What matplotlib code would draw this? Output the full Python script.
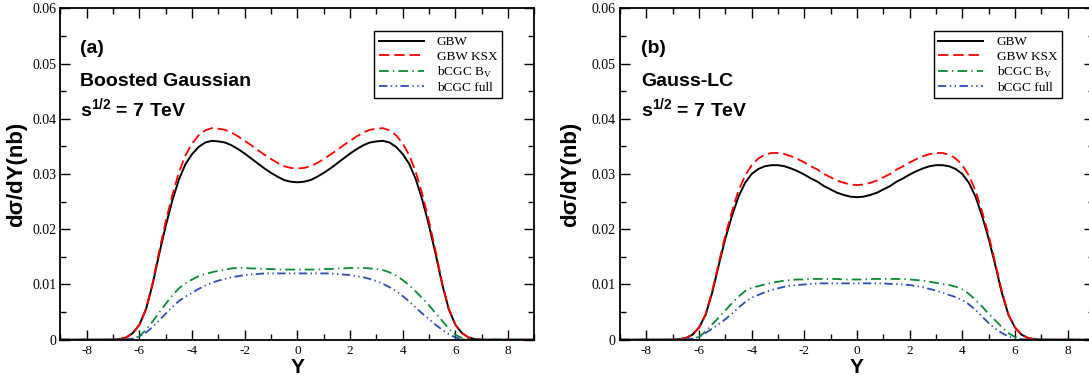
import numpy as np
import matplotlib
matplotlib.use("Agg")
import matplotlib.pyplot as plt

plt.rcParams['lines.scale_dashes'] = False
plt.rcParams['mathtext.fontset'] = 'custom'
plt.rcParams['mathtext.rm'] = 'Liberation Serif'

# Rapidity grid (-9 .. 9, step 0.25)
Y = np.arange(-9, 9.001, 0.25)
Z = [0.0] * 8  # |Y| > 7 region

# ---------------- Panel (a): Boosted Gaussian ----------------
a_gbw = Z + [0.0000, 0.0001, 0.0004, 0.0012, 0.0027, 0.0055, 0.0100, 0.0155, 0.0206, 0.0252,
             0.0290, 0.0318, 0.0336, 0.0349, 0.0357, 0.0360, 0.0359, 0.0357, 0.0352, 0.0345,
             0.0337, 0.0328, 0.0319, 0.0310, 0.0302, 0.0295, 0.0289, 0.0286,
             0.0285,
             0.0286, 0.0289, 0.0295, 0.0302, 0.0310, 0.0319, 0.0328, 0.0337, 0.0345, 0.0352,
             0.0357, 0.0359, 0.0360, 0.0357, 0.0349, 0.0336, 0.0318, 0.0290, 0.0252, 0.0206,
             0.0155, 0.0100, 0.0055, 0.0027, 0.0012, 0.0004, 0.0001, 0.0000] + Z
a_ksx = Z + [0.0000, 0.0001, 0.0004, 0.0012, 0.0027, 0.0056, 0.0102, 0.0160, 0.0214, 0.0262,
             0.0303, 0.0334, 0.0355, 0.0370, 0.0379, 0.0383, 0.0382, 0.0380, 0.0375, 0.0368,
             0.0360, 0.0352, 0.0343, 0.0335, 0.0327, 0.0320, 0.0314, 0.0311,
             0.0310,
             0.0311, 0.0314, 0.0320, 0.0327, 0.0335, 0.0343, 0.0352, 0.0360, 0.0368, 0.0375,
             0.0380, 0.0382, 0.0383, 0.0379, 0.0370, 0.0355, 0.0334, 0.0303, 0.0262, 0.0214,
             0.0160, 0.0102, 0.0056, 0.0027, 0.0012, 0.0004, 0.0001, 0.0000] + Z
a_bv = Z + [0.0000, 0.0000, 0.0000, 0.0001, 0.0006, 0.0018, 0.0033, 0.0049, 0.0065, 0.0080,
            0.0093, 0.0102, 0.0109, 0.0115, 0.0119, 0.0122, 0.0125, 0.0127, 0.0129, 0.0130,
            0.0130, 0.0129, 0.0129, 0.0128, 0.0128, 0.0127, 0.0127, 0.0127,
            0.0127,
            0.0127, 0.0127, 0.0127, 0.0128, 0.0128, 0.0129, 0.0129, 0.0130, 0.0130, 0.0130,
            0.0129, 0.0128, 0.0126, 0.0122, 0.0116, 0.0108, 0.0098, 0.0087, 0.0075, 0.0062,
            0.0048, 0.0034, 0.0020, 0.0009, 0.0003, 0.0000, 0.0000, 0.0000] + Z
a_full = Z + [0.0000, 0.0000, 0.0001, 0.0002, 0.0006, 0.0013, 0.0023, 0.0035, 0.0047, 0.0059,
              0.0070, 0.0078, 0.0085, 0.0092, 0.0098, 0.0103, 0.0107, 0.0110, 0.0113, 0.0115,
              0.0117, 0.0118, 0.0119, 0.0120, 0.0120, 0.0120, 0.0120, 0.0120,
              0.0120,
              0.0120, 0.0120, 0.0120, 0.0120, 0.0120, 0.0119, 0.0118, 0.0117, 0.0115, 0.0113,
              0.0110, 0.0106, 0.0101, 0.0095, 0.0088, 0.0079, 0.0069, 0.0058, 0.0047, 0.0037,
              0.0027, 0.0018, 0.0010, 0.0004, 0.0001, 0.0000, 0.0000, 0.0000] + Z

# ---------------- Panel (b): Gauss-LC ----------------
b_gbw = Z + [0.0000, 0.0001, 0.0003, 0.0009, 0.0022, 0.0045, 0.0085, 0.0135, 0.0183, 0.0224,
             0.0259, 0.0284, 0.0300, 0.0309, 0.0314, 0.0316, 0.0316, 0.0314, 0.0310, 0.0305,
             0.0299, 0.0292, 0.0286, 0.0278, 0.0272, 0.0266, 0.0262, 0.0259,
             0.0258,
             0.0259, 0.0262, 0.0266, 0.0272, 0.0278, 0.0286, 0.0292, 0.0299, 0.0305, 0.0310,
             0.0314, 0.0316, 0.0316, 0.0314, 0.0309, 0.0300, 0.0284, 0.0259, 0.0224, 0.0183,
             0.0135, 0.0085, 0.0045, 0.0022, 0.0009, 0.0003, 0.0001, 0.0000] + Z
b_ksx = Z + [0.0000, 0.0001, 0.0003, 0.0009, 0.0022, 0.0046, 0.0088, 0.0139, 0.0189, 0.0232,
             0.0270, 0.0297, 0.0316, 0.0328, 0.0335, 0.0338, 0.0338, 0.0336, 0.0332, 0.0327,
             0.0321, 0.0314, 0.0308, 0.0300, 0.0294, 0.0288, 0.0284, 0.0281,
             0.0280,
             0.0281, 0.0284, 0.0288, 0.0294, 0.0300, 0.0308, 0.0314, 0.0321, 0.0327, 0.0332,
             0.0336, 0.0338, 0.0338, 0.0335, 0.0328, 0.0316, 0.0297, 0.0270, 0.0232, 0.0189,
             0.0139, 0.0088, 0.0046, 0.0022, 0.0009, 0.0003, 0.0001, 0.0000] + Z
b_bv = Z + [0.0000, 0.0000, 0.0000, 0.0001, 0.0005, 0.0015, 0.0028, 0.0040, 0.0053, 0.0066,
            0.0078, 0.0088, 0.0094, 0.0097, 0.0100, 0.0103, 0.0105, 0.0107, 0.0108, 0.0109,
            0.0109, 0.0110, 0.0110, 0.0110, 0.0110, 0.0110, 0.0109, 0.0109,
            0.0109,
            0.0109, 0.0110, 0.0110, 0.0110, 0.0110, 0.0110, 0.0110, 0.0109, 0.0108, 0.0107,
            0.0105, 0.0103, 0.0101, 0.0099, 0.0096, 0.0091, 0.0083, 0.0072, 0.0060, 0.0047,
            0.0035, 0.0023, 0.0012, 0.0005, 0.0001, 0.0000, 0.0000, 0.0000] + Z
b_full = Z + [0.0000, 0.0000, 0.0001, 0.0002, 0.0005, 0.0012, 0.0020, 0.0028, 0.0037, 0.0047,
              0.0058, 0.0068, 0.0076, 0.0081, 0.0086, 0.0090, 0.0093, 0.0096, 0.0098, 0.0099,
              0.0100, 0.0101, 0.0102, 0.0102, 0.0102, 0.0102, 0.0102, 0.0102,
              0.0102,
              0.0102, 0.0102, 0.0102, 0.0102, 0.0101, 0.0101, 0.0100, 0.0099, 0.0097, 0.0095,
              0.0092, 0.0089, 0.0085, 0.0081, 0.0077, 0.0072, 0.0064, 0.0054, 0.0042, 0.0030,
              0.0020, 0.0012, 0.0006, 0.0002, 0.0001, 0.0000, 0.0000, 0.0000] + Z

labels = ["GBW", "GBW KSX", r"bCGC B$_\mathregular{V}$", "bCGC full"]
panel_tags = ["(a)", "(b)"]
panel_models = ["Boosted Gaussian", "Gauss-LC"]
energy_text = r"s$^\mathregular{1/2}$ = 7 TeV"
xticks = [-8, -6, -4, -2, 0, 2, 4, 6, 8]
yticks = [0, 0.01, 0.02, 0.03, 0.04, 0.05, 0.06]
ytick_labels = ["0", "0.01", "0.02", "0.03", "0.04", "0.05", "0.06"]

colors = ["black", "#ff0000", "#0a8a32", "#2a4fb5"]
styles = [dict(linestyle="-"),
          dict(dashes=(7.5, 3.5)),
          dict(dashes=(7, 3, 1, 3)),
          dict(dashes=(6, 2.5, 1, 2.5, 1, 2.5))]

W, H = 1089, 378
fig = plt.figure(figsize=(W / 100, H / 100), dpi=100)

ax_bottom = 1 - 339.7 / H
ax_height = (339.7 - 8.3) / H
ax_width = 474.0 / W
axes = [fig.add_axes([60.4 / W, ax_bottom, ax_width, ax_height]),
        fig.add_axes([620.0 / W, ax_bottom, ax_width, ax_height])]

data = [[a_gbw, a_ksx, a_bv, a_full], [b_gbw, b_ksx, b_bv, b_full]]
serif = "Liberation Serif"
sans = "Liberation Sans"
ylabel_x = [-0.071, -0.081]

for k, ax in enumerate(axes):
    for s, (vals, c, st, lab) in enumerate(zip(data[k], colors, styles, labels)):
        ax.plot(Y, vals, color=c, lw=1.4 if s == 0 else 1.3, label=lab, **st)
    ax.set_xlim(-9, 9)
    ax.set_ylim(0, 0.06)
    ax.set_xticks(xticks)
    ax.set_xticklabels([str(t) for t in xticks], fontfamily=serif, fontsize=9.5)
    ax.set_xticks(np.arange(-9, 9.5, 1), minor=True)
    ax.set_yticks(yticks)
    ax.set_yticklabels(ytick_labels, fontfamily=serif, fontsize=10)
    ax.set_yticks(np.arange(0, 0.0601, 0.005), minor=True)
    ax.tick_params(which="both", direction="in", top=True, right=True, width=1.0)
    ax.tick_params(which="major", length=7.5)
    ax.tick_params(which="minor", length=4)
    ax.tick_params(axis="x", pad=3.5)
    ax.tick_params(axis="y", pad=3)
    for sp in ax.spines.values():
        sp.set_linewidth(1.3)

    ax.set_xlabel("Y", fontfamily=sans, fontweight="bold", fontsize=15)
    ax.xaxis.set_label_coords(0.5, -0.054)
    ax.set_ylabel("dσ/dY(nb)", fontfamily=sans, fontweight="bold", fontsize=16)
    ax.yaxis.set_label_coords(ylabel_x[k], 0.5)

    tx = 0.041 if k == 0 else 0.045
    ax.text(tx, 0.864, panel_tags[k], transform=ax.transAxes, fontfamily=sans,
            fontweight="bold", fontsize=14, va="baseline", ha="left")
    ax.text(tx, 0.765, panel_models[k], transform=ax.transAxes, fontfamily=sans,
            fontweight="bold", fontsize=14, va="baseline", ha="left")
    ax.text(tx, 0.673, energy_text, transform=ax.transAxes, fontfamily=sans,
            fontweight="bold", fontsize=14, va="baseline", ha="left")

    leg = ax.legend(loc="upper right", bbox_to_anchor=(0.932, 0.93), borderaxespad=0,
                    prop=dict(family=serif, size=9.5), handlelength=3.4, handletextpad=1.0,
                    labelspacing=0.15, borderpad=0.35, fancybox=False, framealpha=1,
                    edgecolor="black")
    leg.get_frame().set_linewidth(1.0)

fig.savefig("out.png", dpi=100)
